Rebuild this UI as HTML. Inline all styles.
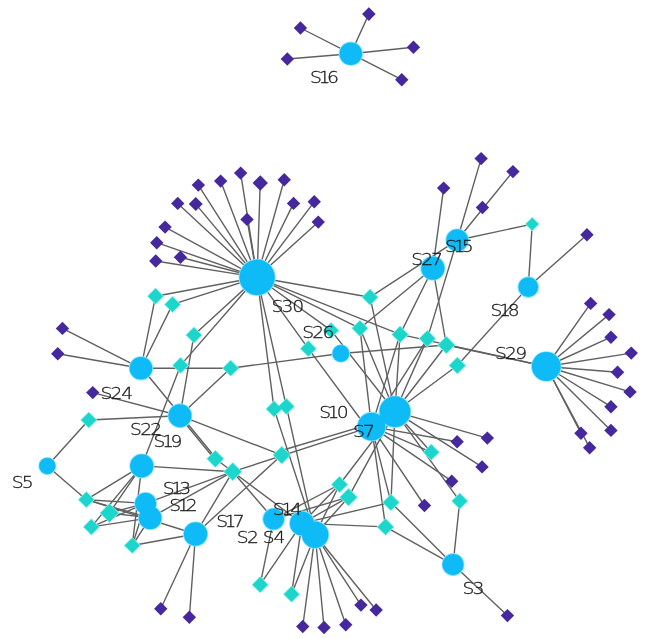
<!DOCTYPE html>
<html><head><meta charset="utf-8"><title>Network</title>
<style>html,body{margin:0;padding:0;background:#fff}svg{display:block}text{font-family:"DejaVu Sans Light","DejaVu Sans","Liberation Sans",sans-serif;font-weight:200;font-size:16.6px;fill:#1a1a1a;stroke:#1a1a1a;stroke-width:.3px}</style></head><body>
<svg width="661" height="639" viewBox="0 0 661 639">
<rect width="661" height="639" fill="#fff"/>
<g transform="translate(0.15 0.5)">
<g stroke="#606060" stroke-width="1.4" stroke-linecap="round">
<line x1="300.3" y1="27.5" x2="350.65" y2="53.2"/>
<line x1="287.2" y1="58.5" x2="350.65" y2="53.2"/>
<line x1="368.7" y1="13.6" x2="350.65" y2="53.2"/>
<line x1="413.3" y1="46.8" x2="350.65" y2="53.2"/>
<line x1="401.6" y1="79.2" x2="350.65" y2="53.2"/>
<line x1="240.5" y1="172.6" x2="256.95" y2="276.8"/>
<line x1="220.5" y1="180.6" x2="256.95" y2="276.8"/>
<line x1="198.2" y1="184.6" x2="256.95" y2="276.8"/>
<line x1="260.05" y1="182.5" x2="256.95" y2="276.8"/>
<line x1="284.1" y1="179.3" x2="256.95" y2="276.8"/>
<line x1="177.6" y1="202.9" x2="256.95" y2="276.8"/>
<line x1="195.6" y1="203.6" x2="256.95" y2="276.8"/>
<line x1="293.4" y1="202.9" x2="256.95" y2="276.8"/>
<line x1="314.1" y1="201.3" x2="256.95" y2="276.8"/>
<line x1="246.9" y1="218.9" x2="256.95" y2="276.8"/>
<line x1="318.1" y1="221.6" x2="256.95" y2="276.8"/>
<line x1="164.9" y1="226.6" x2="256.95" y2="276.8"/>
<line x1="156.6" y1="242.2" x2="256.95" y2="276.8"/>
<line x1="180.3" y1="256.8" x2="256.95" y2="276.8"/>
<line x1="155.6" y1="260.5" x2="256.95" y2="276.8"/>
<line x1="62.3" y1="327.9" x2="140.8" y2="367.8"/>
<line x1="57.6" y1="353.2" x2="140.8" y2="367.8"/>
<line x1="92.6" y1="392.1" x2="179.8" y2="415.2"/>
<line x1="160.6" y1="608.2" x2="195.4" y2="533.5"/>
<line x1="189.2" y1="616.8" x2="195.4" y2="533.5"/>
<line x1="302.6" y1="626" x2="315.0" y2="534.2"/>
<line x1="323.9" y1="627" x2="315.0" y2="534.2"/>
<line x1="345.6" y1="624.3" x2="315.0" y2="534.2"/>
<line x1="360.8" y1="604.6" x2="315.0" y2="534.2"/>
<line x1="376" y1="609.5" x2="315.0" y2="534.2"/>
<line x1="457" y1="441.3" x2="371.4" y2="426.1"/>
<line x1="487.2" y1="437.6" x2="394.8" y2="411.2"/>
<line x1="481.9" y1="466.4" x2="394.8" y2="411.2"/>
<line x1="451.6" y1="480.7" x2="371.4" y2="426.1"/>
<line x1="424.3" y1="505" x2="371.4" y2="426.1"/>
<line x1="507.3" y1="615.1" x2="452.9" y2="564.1"/>
<line x1="590.5" y1="302.9" x2="546.15" y2="366"/>
<line x1="608.9" y1="314.1" x2="546.15" y2="366"/>
<line x1="610.8" y1="336.7" x2="546.15" y2="366"/>
<line x1="631.1" y1="352.6" x2="546.15" y2="366"/>
<line x1="617.4" y1="371.7" x2="546.15" y2="366"/>
<line x1="629.9" y1="391.4" x2="546.15" y2="366"/>
<line x1="610.8" y1="406.2" x2="546.15" y2="366"/>
<line x1="610.8" y1="429.9" x2="546.15" y2="366"/>
<line x1="580.8" y1="432.8" x2="546.15" y2="366"/>
<line x1="589.5" y1="447.2" x2="546.15" y2="366"/>
<line x1="481" y1="158.1" x2="457.0" y2="239.7"/>
<line x1="512.8" y1="171.1" x2="457.0" y2="239.7"/>
<line x1="443.5" y1="187.6" x2="432.7" y2="267.7"/>
<line x1="586.8" y1="234.3" x2="528.1" y2="286.6"/>
<line x1="155.4" y1="295.7" x2="256.95" y2="276.8"/>
<line x1="155.4" y1="295.7" x2="140.8" y2="367.8"/>
<line x1="172.4" y1="303.9" x2="256.95" y2="276.8"/>
<line x1="172.4" y1="303.9" x2="140.8" y2="367.8"/>
<line x1="193.8" y1="334.6" x2="256.95" y2="276.8"/>
<line x1="193.8" y1="334.6" x2="179.8" y2="415.2"/>
<line x1="180.4" y1="364.9" x2="141.6" y2="465.4"/>
<line x1="180.4" y1="364.9" x2="256.95" y2="276.8"/>
<line x1="230.5" y1="367.7" x2="140.8" y2="367.8"/>
<line x1="230.5" y1="367.7" x2="179.8" y2="415.2"/>
<line x1="230.5" y1="367.7" x2="340.7" y2="353.0"/>
<line x1="88.6" y1="419.5" x2="47.15" y2="465.5"/>
<line x1="88.6" y1="419.5" x2="179.8" y2="415.2"/>
<line x1="86.2" y1="499.2" x2="47.15" y2="465.5"/>
<line x1="86.2" y1="499.2" x2="141.6" y2="465.4"/>
<line x1="86.2" y1="499.2" x2="145.45" y2="502.9"/>
<line x1="86.2" y1="499.2" x2="150.0" y2="517.4"/>
<line x1="86.2" y1="499.2" x2="195.4" y2="533.5"/>
<line x1="109.25" y1="512.5" x2="141.6" y2="465.4"/>
<line x1="109.25" y1="512.5" x2="145.45" y2="502.9"/>
<line x1="109.25" y1="512.5" x2="150.0" y2="517.4"/>
<line x1="91.2" y1="526.4" x2="141.6" y2="465.4"/>
<line x1="91.2" y1="526.4" x2="145.45" y2="502.9"/>
<line x1="91.2" y1="526.4" x2="150.0" y2="517.4"/>
<line x1="132.1" y1="545" x2="141.6" y2="465.4"/>
<line x1="132.1" y1="545" x2="145.45" y2="502.9"/>
<line x1="132.1" y1="545" x2="150.0" y2="517.4"/>
<line x1="132.1" y1="545" x2="195.4" y2="533.5"/>
<line x1="232.6" y1="471.2" x2="141.6" y2="465.4"/>
<line x1="232.6" y1="471.2" x2="145.45" y2="502.9"/>
<line x1="232.6" y1="471.2" x2="150.0" y2="517.4"/>
<line x1="232.6" y1="471.2" x2="195.4" y2="533.5"/>
<line x1="232.6" y1="471.2" x2="273.5" y2="518.6"/>
<line x1="232.6" y1="471.2" x2="301.8" y2="522.9"/>
<line x1="232.6" y1="471.2" x2="371.4" y2="426.1"/>
<line x1="281.6" y1="454.6" x2="179.8" y2="415.2"/>
<line x1="281.6" y1="454.6" x2="195.4" y2="533.5"/>
<line x1="273.9" y1="408.4" x2="256.95" y2="276.8"/>
<line x1="273.9" y1="408.4" x2="315.0" y2="534.2"/>
<line x1="286.2" y1="405.9" x2="256.95" y2="276.8"/>
<line x1="286.2" y1="405.9" x2="315.0" y2="534.2"/>
<line x1="260" y1="584.2" x2="273.5" y2="518.6"/>
<line x1="260" y1="584.2" x2="301.8" y2="522.9"/>
<line x1="291.4" y1="593.7" x2="301.8" y2="522.9"/>
<line x1="291.4" y1="593.7" x2="315.0" y2="534.2"/>
<line x1="339.4" y1="484" x2="273.5" y2="518.6"/>
<line x1="339.4" y1="484" x2="301.8" y2="522.9"/>
<line x1="339.4" y1="484" x2="315.0" y2="534.2"/>
<line x1="339.4" y1="484" x2="394.8" y2="411.2"/>
<line x1="348.4" y1="496.7" x2="273.5" y2="518.6"/>
<line x1="348.4" y1="496.7" x2="301.8" y2="522.9"/>
<line x1="348.4" y1="496.7" x2="315.0" y2="534.2"/>
<line x1="348.4" y1="496.7" x2="394.8" y2="411.2"/>
<line x1="390.8" y1="501.9" x2="394.8" y2="411.2"/>
<line x1="390.8" y1="501.9" x2="371.4" y2="426.1"/>
<line x1="390.8" y1="501.9" x2="452.9" y2="564.1"/>
<line x1="390.8" y1="501.9" x2="301.8" y2="522.9"/>
<line x1="385.4" y1="526.4" x2="371.4" y2="426.1"/>
<line x1="385.4" y1="526.4" x2="452.9" y2="564.1"/>
<line x1="385.4" y1="526.4" x2="301.8" y2="522.9"/>
<line x1="431.1" y1="451.7" x2="371.4" y2="426.1"/>
<line x1="431.1" y1="451.7" x2="394.8" y2="411.2"/>
<line x1="459.6" y1="500.6" x2="394.8" y2="411.2"/>
<line x1="459.6" y1="500.6" x2="452.9" y2="564.1"/>
<line x1="369.9" y1="296.7" x2="256.95" y2="276.8"/>
<line x1="369.9" y1="296.7" x2="457.0" y2="239.7"/>
<line x1="369.9" y1="296.7" x2="394.8" y2="411.2"/>
<line x1="359.8" y1="327.8" x2="256.95" y2="276.8"/>
<line x1="359.8" y1="327.8" x2="432.7" y2="267.7"/>
<line x1="359.8" y1="327.8" x2="371.4" y2="426.1"/>
<line x1="359.8" y1="327.8" x2="394.8" y2="411.2"/>
<line x1="330.9" y1="329.9" x2="256.95" y2="276.8"/>
<line x1="330.9" y1="329.9" x2="394.8" y2="411.2"/>
<line x1="308.2" y1="348.2" x2="256.95" y2="276.8"/>
<line x1="399.9" y1="333.9" x2="256.95" y2="276.8"/>
<line x1="399.9" y1="333.9" x2="546.15" y2="366"/>
<line x1="399.9" y1="333.9" x2="432.7" y2="267.7"/>
<line x1="399.9" y1="333.9" x2="394.8" y2="411.2"/>
<line x1="399.9" y1="333.9" x2="371.4" y2="426.1"/>
<line x1="427.2" y1="338.1" x2="457.0" y2="239.7"/>
<line x1="427.2" y1="338.1" x2="394.8" y2="411.2"/>
<line x1="427.2" y1="338.1" x2="371.4" y2="426.1"/>
<line x1="446.2" y1="344.5" x2="432.7" y2="267.7"/>
<line x1="446.2" y1="344.5" x2="340.7" y2="353.0"/>
<line x1="446.2" y1="344.5" x2="546.15" y2="366"/>
<line x1="446.2" y1="344.5" x2="394.8" y2="411.2"/>
<line x1="457.2" y1="365" x2="528.1" y2="286.6"/>
<line x1="457.2" y1="365" x2="394.8" y2="411.2"/>
<line x1="532.1" y1="223.6" x2="457.0" y2="239.7"/>
<line x1="532.1" y1="223.6" x2="528.1" y2="286.6"/>
<line x1="179.18" y1="415.71" x2="214.58" y2="458.81"/>
<line x1="141.82" y1="367.69" x2="215.82" y2="457.79"/>
<line x1="215.20" y1="458.30" x2="232.60" y2="471.20"/>
<line x1="283.00" y1="449.50" x2="380.00" y2="420.70"/>
<line x1="308.20" y1="348.20" x2="371.00" y2="433.00"/>
</g>
<g fill="#46289e">
<path d="M293.6 27.5L300.3 20.8L307.0 27.5L300.3 34.2Z"/>
<path d="M280.5 58.5L287.2 51.8L293.9 58.5L287.2 65.2Z"/>
<path d="M361.9 13.6L368.7 6.8L375.5 13.6L368.7 20.4Z"/>
<path d="M406.6 46.8L413.3 40.1L420.0 46.8L413.3 53.5Z"/>
<path d="M394.9 79.2L401.6 72.5L408.3 79.2L401.6 85.9Z"/>
<path d="M233.8 172.6L240.5 165.9L247.2 172.6L240.5 179.3Z"/>
<path d="M213.8 180.6L220.5 173.9L227.2 180.6L220.5 187.3Z"/>
<path d="M191.5 184.6L198.2 177.9L204.9 184.6L198.2 191.3Z"/>
<path d="M252.4 182.5L260.1 174.8L267.8 182.5L260.1 190.2Z"/>
<path d="M277.4 179.3L284.1 172.6L290.8 179.3L284.1 186.0Z"/>
<path d="M170.9 202.9L177.6 196.2L184.3 202.9L177.6 209.6Z"/>
<path d="M188.6 203.6L195.6 196.6L202.6 203.6L195.6 210.6Z"/>
<path d="M286.7 202.9L293.4 196.2L300.1 202.9L293.4 209.6Z"/>
<path d="M307.4 201.3L314.1 194.6L320.8 201.3L314.1 208.0Z"/>
<path d="M240.2 218.9L246.9 212.2L253.6 218.9L246.9 225.6Z"/>
<path d="M311.4 221.6L318.1 214.9L324.8 221.6L318.1 228.3Z"/>
<path d="M158.2 226.6L164.9 219.9L171.6 226.6L164.9 233.3Z"/>
<path d="M149.9 242.2L156.6 235.5L163.3 242.2L156.6 248.9Z"/>
<path d="M173.6 256.8L180.3 250.1L187.0 256.8L180.3 263.5Z"/>
<path d="M148.9 260.5L155.6 253.8L162.3 260.5L155.6 267.2Z"/>
<path d="M55.6 327.9L62.3 321.2L69.0 327.9L62.3 334.6Z"/>
<path d="M50.9 353.2L57.6 346.5L64.3 353.2L57.6 359.9Z"/>
<path d="M85.9 392.1L92.6 385.4L99.3 392.1L92.6 398.8Z"/>
<path d="M153.9 608.2L160.6 601.5L167.3 608.2L160.6 614.9Z"/>
<path d="M182.5 616.8L189.2 610.1L195.9 616.8L189.2 623.5Z"/>
<path d="M295.9 626.0L302.6 619.3L309.3 626.0L302.6 632.7Z"/>
<path d="M317.2 627.0L323.9 620.3L330.6 627.0L323.9 633.7Z"/>
<path d="M338.9 624.3L345.6 617.6L352.3 624.3L345.6 631.0Z"/>
<path d="M354.1 604.6L360.8 597.9L367.5 604.6L360.8 611.3Z"/>
<path d="M369.3 609.5L376.0 602.8L382.7 609.5L376.0 616.2Z"/>
<path d="M450.3 441.3L457.0 434.6L463.7 441.3L457.0 448.0Z"/>
<path d="M480.5 437.6L487.2 430.9L493.9 437.6L487.2 444.3Z"/>
<path d="M475.2 466.4L481.9 459.7L488.6 466.4L481.9 473.1Z"/>
<path d="M444.9 480.7L451.6 474.0L458.3 480.7L451.6 487.4Z"/>
<path d="M417.6 505.0L424.3 498.3L431.0 505.0L424.3 511.7Z"/>
<path d="M500.6 615.1L507.3 608.4L514.0 615.1L507.3 621.8Z"/>
<path d="M583.8 302.9L590.5 296.2L597.2 302.9L590.5 309.6Z"/>
<path d="M602.2 314.1L608.9 307.4L615.6 314.1L608.9 320.8Z"/>
<path d="M604.1 336.7L610.8 330.0L617.5 336.7L610.8 343.4Z"/>
<path d="M624.4 352.6L631.1 345.9L637.8 352.6L631.1 359.3Z"/>
<path d="M610.7 371.7L617.4 365.0L624.1 371.7L617.4 378.4Z"/>
<path d="M623.2 391.4L629.9 384.7L636.6 391.4L629.9 398.1Z"/>
<path d="M604.1 406.2L610.8 399.5L617.5 406.2L610.8 412.9Z"/>
<path d="M604.1 429.9L610.8 423.2L617.5 429.9L610.8 436.6Z"/>
<path d="M574.1 432.8L580.8 426.1L587.5 432.8L580.8 439.5Z"/>
<path d="M582.8 447.2L589.5 440.5L596.2 447.2L589.5 453.9Z"/>
<path d="M474.3 158.1L481.0 151.4L487.7 158.1L481.0 164.8Z"/>
<path d="M506.1 171.1L512.8 164.4L519.5 171.1L512.8 177.8Z"/>
<path d="M475.6 207.0L482.3 200.3L489.0 207.0L482.3 213.7Z"/>
<path d="M436.8 187.6L443.5 180.9L450.2 187.6L443.5 194.3Z"/>
<path d="M580.1 234.3L586.8 227.6L593.5 234.3L586.8 241.0Z"/>
</g>
<g fill="#8df3ee">
<path d="M146.8 295.7L155.4 287.1L164.0 295.7L155.4 304.3Z"/>
<path d="M163.8 303.9L172.4 295.3L181.0 303.9L172.4 312.5Z"/>
<path d="M185.2 334.6L193.8 326.0L202.4 334.6L193.8 343.2Z"/>
<path d="M171.8 364.9L180.4 356.3L189.0 364.9L180.4 373.5Z"/>
<path d="M221.9 367.7L230.5 359.1L239.1 367.7L230.5 376.3Z"/>
<path d="M80.0 419.5L88.6 410.9L97.2 419.5L88.6 428.1Z"/>
<path d="M77.6 499.2L86.2 490.6L94.8 499.2L86.2 507.8Z"/>
<path d="M99.3 512.5L109.2 502.6L119.2 512.5L109.2 522.4Z"/>
<path d="M82.6 526.4L91.2 517.8L99.8 526.4L91.2 535.0Z"/>
<path d="M123.5 545.0L132.1 536.4L140.7 545.0L132.1 553.6Z"/>
<path d="M206.1 458.3L215.2 449.2L224.3 458.3L215.2 467.4Z"/>
<path d="M223.0 471.2L232.6 461.6L242.2 471.2L232.6 480.8Z"/>
<path d="M272.3 454.6L281.6 445.3L290.9 454.6L281.6 463.9Z"/>
<path d="M265.3 408.4L273.9 399.8L282.5 408.4L273.9 417.0Z"/>
<path d="M277.6 405.9L286.2 397.3L294.8 405.9L286.2 414.5Z"/>
<path d="M251.4 584.2L260.0 575.6L268.6 584.2L260.0 592.8Z"/>
<path d="M282.8 593.7L291.4 585.1L300.0 593.7L291.4 602.3Z"/>
<path d="M330.6 484.0L339.4 475.2L348.2 484.0L339.4 492.8Z"/>
<path d="M339.0 496.7L348.4 487.3L357.8 496.7L348.4 506.1Z"/>
<path d="M381.9 501.9L390.8 493.0L399.7 501.9L390.8 510.8Z"/>
<path d="M376.5 526.4L385.4 517.5L394.3 526.4L385.4 535.3Z"/>
<path d="M422.5 451.7L431.1 443.1L439.7 451.7L431.1 460.3Z"/>
<path d="M451.0 500.6L459.6 492.0L468.2 500.6L459.6 509.2Z"/>
<path d="M361.3 296.7L369.9 288.1L378.5 296.7L369.9 305.3Z"/>
<path d="M351.2 327.8L359.8 319.2L368.4 327.8L359.8 336.4Z"/>
<path d="M322.5 329.9L330.9 321.5L339.3 329.9L330.9 338.3Z"/>
<path d="M299.6 348.2L308.2 339.6L316.8 348.2L308.2 356.8Z"/>
<path d="M391.0 333.9L399.9 325.0L408.8 333.9L399.9 342.8Z"/>
<path d="M418.4 338.1L427.2 329.3L436.0 338.1L427.2 346.9Z"/>
<path d="M437.0 344.5L446.2 335.3L455.4 344.5L446.2 353.7Z"/>
<path d="M448.3 365.0L457.2 356.1L466.1 365.0L457.2 373.9Z"/>
<path d="M524.8 223.6L532.1 216.3L539.4 223.6L532.1 230.9Z"/>
</g>
<g fill="#1cd6cc">
<path d="M147.8 295.7L155.4 288.1L163.0 295.7L155.4 303.3Z"/>
<path d="M164.8 303.9L172.4 296.3L180.0 303.9L172.4 311.5Z"/>
<path d="M186.2 334.6L193.8 327.0L201.4 334.6L193.8 342.2Z"/>
<path d="M172.8 364.9L180.4 357.3L188.0 364.9L180.4 372.5Z"/>
<path d="M222.9 367.7L230.5 360.1L238.1 367.7L230.5 375.3Z"/>
<path d="M81.0 419.5L88.6 411.9L96.2 419.5L88.6 427.1Z"/>
<path d="M78.6 499.2L86.2 491.6L93.8 499.2L86.2 506.8Z"/>
<path d="M100.3 512.5L109.2 503.6L118.2 512.5L109.2 521.4Z"/>
<path d="M83.6 526.4L91.2 518.8L98.8 526.4L91.2 534.0Z"/>
<path d="M124.5 545.0L132.1 537.4L139.7 545.0L132.1 552.6Z"/>
<path d="M207.1 458.3L215.2 450.2L223.3 458.3L215.2 466.4Z"/>
<path d="M224.0 471.2L232.6 462.6L241.2 471.2L232.6 479.8Z"/>
<path d="M273.3 454.6L281.6 446.3L289.9 454.6L281.6 462.9Z"/>
<path d="M266.3 408.4L273.9 400.8L281.5 408.4L273.9 416.0Z"/>
<path d="M278.6 405.9L286.2 398.3L293.8 405.9L286.2 413.5Z"/>
<path d="M252.4 584.2L260.0 576.6L267.6 584.2L260.0 591.8Z"/>
<path d="M283.8 593.7L291.4 586.1L299.0 593.7L291.4 601.3Z"/>
<path d="M331.6 484.0L339.4 476.2L347.2 484.0L339.4 491.8Z"/>
<path d="M340.0 496.7L348.4 488.3L356.8 496.7L348.4 505.1Z"/>
<path d="M382.9 501.9L390.8 494.0L398.7 501.9L390.8 509.8Z"/>
<path d="M377.5 526.4L385.4 518.5L393.3 526.4L385.4 534.3Z"/>
<path d="M423.5 451.7L431.1 444.1L438.7 451.7L431.1 459.3Z"/>
<path d="M452.0 500.6L459.6 493.0L467.2 500.6L459.6 508.2Z"/>
<path d="M362.3 296.7L369.9 289.1L377.5 296.7L369.9 304.3Z"/>
<path d="M352.2 327.8L359.8 320.2L367.4 327.8L359.8 335.4Z"/>
<path d="M323.5 329.9L330.9 322.5L338.3 329.9L330.9 337.3Z"/>
<path d="M300.6 348.2L308.2 340.6L315.8 348.2L308.2 355.8Z"/>
<path d="M392.0 333.9L399.9 326.0L407.8 333.9L399.9 341.8Z"/>
<path d="M419.4 338.1L427.2 330.3L435.0 338.1L427.2 345.9Z"/>
<path d="M438.0 344.5L446.2 336.3L454.4 344.5L446.2 352.7Z"/>
<path d="M449.3 365.0L457.2 357.1L465.1 365.0L457.2 372.9Z"/>
<path d="M525.8 223.6L532.1 217.3L538.4 223.6L532.1 229.9Z"/>
</g>
<g fill="#8fe6ff">
<circle cx="350.65" cy="53.2" r="12.200000000000001"/>
<circle cx="256.95" cy="276.8" r="18.599999999999998"/>
<circle cx="140.8" cy="367.8" r="12.200000000000001"/>
<circle cx="179.8" cy="415.2" r="12.4"/>
<circle cx="47.15" cy="465.5" r="9.1"/>
<circle cx="141.6" cy="465.4" r="12.5"/>
<circle cx="145.45" cy="502.9" r="11.5"/>
<circle cx="150.0" cy="517.4" r="12.200000000000001"/>
<circle cx="195.4" cy="533.5" r="12.6"/>
<circle cx="273.5" cy="518.6" r="11.4"/>
<circle cx="301.8" cy="522.9" r="12.9"/>
<circle cx="315.0" cy="534.2" r="14.1"/>
<circle cx="371.4" cy="426.1" r="14.8"/>
<circle cx="394.8" cy="411.2" r="16.3"/>
<circle cx="452.9" cy="564.1" r="11.5"/>
<circle cx="546.15" cy="366" r="15.3"/>
<circle cx="528.1" cy="286.6" r="10.8"/>
<circle cx="457.0" cy="239.7" r="11.8"/>
<circle cx="432.7" cy="267.7" r="12.5"/>
<circle cx="340.7" cy="353.0" r="9.3"/>
</g>
<g fill="#0ebbf6">
<circle cx="350.65" cy="53.2" r="11.3"/>
<circle cx="256.95" cy="276.8" r="17.7"/>
<circle cx="140.8" cy="367.8" r="11.3"/>
<circle cx="179.8" cy="415.2" r="11.5"/>
<circle cx="47.15" cy="465.5" r="8.2"/>
<circle cx="141.6" cy="465.4" r="11.6"/>
<circle cx="145.45" cy="502.9" r="10.6"/>
<circle cx="150.0" cy="517.4" r="11.3"/>
<circle cx="195.4" cy="533.5" r="11.7"/>
<circle cx="273.5" cy="518.6" r="10.5"/>
<circle cx="301.8" cy="522.9" r="12.0"/>
<circle cx="315.0" cy="534.2" r="13.2"/>
<circle cx="371.4" cy="426.1" r="13.9"/>
<circle cx="394.8" cy="411.2" r="15.4"/>
<circle cx="452.9" cy="564.1" r="10.6"/>
<circle cx="546.15" cy="366" r="14.4"/>
<circle cx="528.1" cy="286.6" r="9.9"/>
<circle cx="457.0" cy="239.7" r="10.9"/>
<circle cx="432.7" cy="267.7" r="11.6"/>
<circle cx="340.7" cy="353.0" r="8.4"/>
</g>
</g>
</svg>
<svg width="661" height="639" viewBox="0 0 661 639" style="position:absolute;left:0;top:0;will-change:transform"><g>
<text transform="scale(1.13 1)" x="274.37 281.78 289.37" y="82.6">S16</text>
<text transform="scale(1.13 1)" x="240.21 249.12 258.71" y="311.8">S30</text>
<text transform="scale(1.13 1)" x="88.97 97.88 107.40" y="398.8">S24</text>
<text transform="scale(1.13 1)" x="115.16 124.08 132.88" y="435.1">S22</text>
<text transform="scale(1.13 1)" x="10.30 19.25" y="487.6">S5</text>
<text transform="scale(1.13 1)" x="135.87 143.28 150.88" y="447.4">S19</text>
<text transform="scale(1.13 1)" x="144.01 151.42 158.72" y="494.3">S13</text>
<text transform="scale(1.13 1)" x="149.68 157.09 164.38" y="511.5">S12</text>
<text transform="scale(1.13 1)" x="191.36 198.77 206.03" y="526.7">S17</text>
<text transform="scale(1.13 1)" x="209.59 218.50" y="543.1">S2</text>
<text transform="scale(1.13 1)" x="241.45 248.86 256.87" y="515.3">S14</text>
<text transform="scale(1.13 1)" x="232.51 242.14" y="543.1">S4</text>
<text transform="scale(1.13 1)" x="282.42 289.83 297.92" y="418.1">S10</text>
<text transform="scale(1.13 1)" x="312.33 321.21" y="437.4">S7</text>
<text transform="scale(1.13 1)" x="409.23 418.15" y="594.5">S3</text>
<text transform="scale(1.13 1)" x="438.00 446.91 456.01" y="358.6">S29</text>
<text transform="scale(1.13 1)" x="434.10 441.51 449.30" y="315.8">S18</text>
<text transform="scale(1.13 1)" x="393.92 401.33 408.67" y="252.5">S15</text>
<text transform="scale(1.13 1)" x="363.84 372.75 381.51" y="265.4">S27</text>
<text transform="scale(1.13 1)" x="267.38 276.29 285.39" y="338.4">S26</text>
</g>
</svg></body></html>
